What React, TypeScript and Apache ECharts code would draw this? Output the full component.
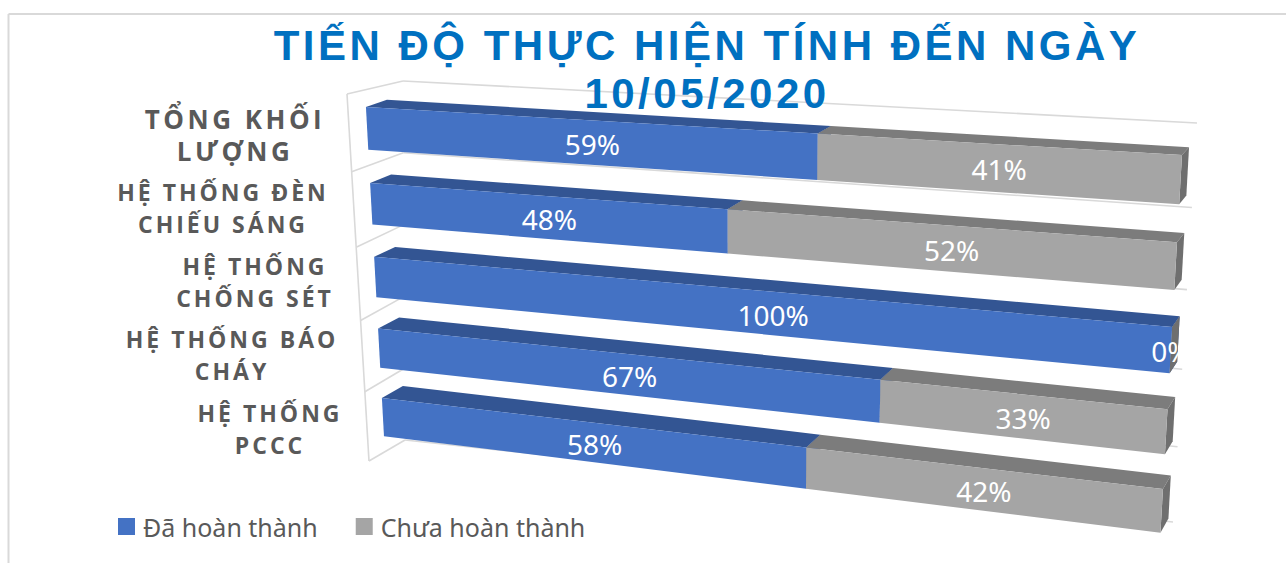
import React, { useEffect, useRef } from "react";
import * as echarts from "echarts";

const titleText = "TIẾN ĐỘ THỰC HIỆN TÍNH ĐẾN NGÀY\n10/05/2020";
const categories = [
  "TỔNG KHỐI\nLƯỢNG",
  "HỆ THỐNG ĐÈN\nCHIẾU SÁNG",
  "HỆ THỐNG\nCHỐNG SÉT",
  "HỆ THỐNG BÁO\nCHÁY",
  "HỆ THỐNG\nPCCC",
];
const doneName = "Đã hoàn thành";
const todoName = "Chưa hoàn thành";
const doneValues = [59, 48, 100, 67, 58];
const todoValues = [41, 52, 0, 33, 42];

// horizontal shift of each category label from the common anchor, and its font size
const labelShiftX = [-15, -27, 5, -18, 20];
const labelFontSize = [26, 23, 23, 23, 23];

const W = 1286;
const H = 563;
const GRID = { left: 365, right: 1183, top: 97.7, bottom: 465.7 };
const LABEL_ANCHOR_X = 250;
const BAR_FILL = 0.56;

// projective plane of the 3D chart (front plane of the bars)
const F = { tl: [365, 90], tr: [1183.1, 135.5], bl: [384.8, 451], br: [1159.5, 549.8] };
const D = { tl: [21, -7], tr: [7, -7.5], bl: [21, -13], br: [8, -14.5] };
const KU = 1.16;
const KV = 0.93;
const sU = (u: number) => u / (u + KU * (1 - u));
const sV = (v: number) => v / (v + KV * (1 - v));
const lerp = (a: number, b: number, t: number) => a + (b - a) * t;
const bil = (q: any, s: number, t: number, k: number) =>
  lerp(lerp(q.tl[k], q.tr[k], s), lerp(q.bl[k], q.br[k], s), t);

function project(u: number, v: number, d: number): number[] {
  const s = sU(u);
  const t = sV(v);
  return [bil(F, s, t, 0) + d * bil(D, s, t, 0), bil(F, s, t, 1) + d * bil(D, s, t, 1)];
}
const norm = (p: number[]) => [
  (p[0] - GRID.left) / (GRID.right - GRID.left),
  (p[1] - GRID.top) / (GRID.bottom - GRID.top),
];

const barRender = (front: string, top: string, side: string) => (_: any, api: any) => {
  const start = api.value(0);
  const end = api.value(1);
  const cat = api.value(2);
  const share = api.value(3);
  const a = norm(api.coord([start, cat]));
  const b = norm(api.coord([end, cat]));
  const band = api.size([0, 1])[1] / (GRID.bottom - GRID.top);
  const v0 = a[1] - (band * BAR_FILL) / 2;
  const v1 = a[1] + (band * BAR_FILL) / 2;
  const u0 = a[0];
  const u1 = b[0];
  const c0 = project(u0, a[1], 0);
  const c1 = project(u1, a[1], 0);
  return {
    type: "group",
    children: [
      { type: "polygon", shape: { points: [project(u0, v0, 0), project(u1, v0, 0), project(u1, v0, 1), project(u0, v0, 1)] }, style: { fill: top } },
      { type: "polygon", shape: { points: [project(u1, v0, 0), project(u1, v0, 1), project(u1, v1, 1), project(u1, v1, 0)] }, style: { fill: side } },
      { type: "polygon", shape: { points: [project(u0, v0, 0), project(u1, v0, 0), project(u1, v1, 0), project(u0, v1, 0)] }, style: { fill: front } },
      {
        type: "text",
        z2: 50,
        style: {
          text: share + "%",
          x: (c0[0] + c1[0]) / 2,
          y: (c0[1] + c1[1]) / 2 + 1,
          fill: "#ffffff",
          fontSize: 28,
          fontFamily: "Noto Sans",
          align: "center",
          verticalAlign: "middle",
          textAlign: "center",
          textVerticalAlign: "middle",
        },
      },
    ],
  };
};

const WALL = {
  sideTop: [347, 94],
  sideBottom: [369, 461],
  backTop: [403, 81],
  backBottom: [405, 440],
  rightTop: [1197, 123],
  rightBottom: [1173, 522],
};
const wallLine = (p: number[], q: number[]) => ({
  type: "line",
  shape: { x1: p[0], y1: p[1], x2: q[0], y2: q[1] },
  style: { stroke: "#d9d9d9", lineWidth: 1.6, fill: "none" },
});
const wallRender = (_: any, api: any) => {
  const cat = api.value(0);
  const c = norm(api.coord([0, cat]));
  const band = api.size([0, 1])[1] / (GRID.bottom - GRID.top);
  const edge = (v: number) => {
    const t = sV(v);
    const side = [lerp(WALL.sideTop[0], WALL.sideBottom[0], t), lerp(WALL.sideTop[1], WALL.sideBottom[1], t)];
    const back = [lerp(WALL.backTop[0], WALL.backBottom[0], v), lerp(WALL.backTop[1], WALL.backBottom[1], v)];
    const right = [lerp(WALL.rightTop[0], WALL.rightBottom[0], t), lerp(WALL.rightTop[1], WALL.rightBottom[1], t)];
    return [wallLine(side, back), wallLine(back, right)];
  };
  const vTop = c[1] - band / 2;
  const children: any[] = edge(vTop);
  if (cat === 0) children.push(wallLine(WALL.sideTop, WALL.sideBottom));
  if (cat === categories.length - 1) children.push(...edge(vTop + band));
  return { type: "group", children };
};

export default function App() {
  const ref = useRef<HTMLDivElement>(null);
  useEffect(() => {
    document.body.style.margin = "0";
    const chart = echarts.init(ref.current!, undefined, { renderer: "svg" });
    chart.setOption({
      animation: false,
      backgroundColor: "#ffffff",
      title: {
        text: titleText,
        left: 702,
        top: 16,
        textAlign: "center",
        textStyle: {
          fontFamily: "Liberation Sans",
          fontWeight: "bold",
          fontSize: 42,
          lineHeight: 48,
          color: "#0070c0",
        },
      },
      legend: {
        left: 113,
        top: 509,
        icon: "rect",
        itemWidth: 17,
        itemHeight: 17,
        itemGap: 38,
        selectedMode: false,
        data: [doneName, todoName],
        textStyle: { fontFamily: "Noto Sans", fontSize: 25, color: "#595959", padding: [0, 0, 0, 3] },
      },
      grid: { left: GRID.left, right: W - GRID.right, top: GRID.top, bottom: H - GRID.bottom },
      xAxis: { type: "value", min: 0, max: 100, show: false },
      yAxis: {
        type: "category",
        inverse: true,
        data: categories.map((c, i) => {
          const dx = labelShiftX[i];
          return {
            value: c,
            textStyle: {
              align: "center",
              verticalAlign: "middle",
              fontSize: labelFontSize[i],
              padding: [0, dx < 0 ? -dx * 2 : 0, 0, dx > 0 ? dx * 2 : 0],
            },
          };
        }),
        axisLine: { show: false },
        axisTick: { show: false },
        splitLine: { show: false },
        axisLabel: {
          align: "center",
          margin: GRID.left - LABEL_ANCHOR_X,
          interval: 0,
          fontFamily: "Open Sans",
          fontWeight: "bold",
          lineHeight: 32,
          color: "#595959",
        },
      },
      graphic: [
        { type: "line", shape: { x1: 8.5, y1: 14, x2: W, y2: 14 }, style: { stroke: "#d9d9d9", lineWidth: 2 } },
        { type: "line", shape: { x1: 8.5, y1: 14, x2: 8.5, y2: H }, style: { stroke: "#d9d9d9", lineWidth: 2 } },
      ],
      series: [
        {
          type: "custom",
          name: "walls",
          z: 1,
          silent: true,
          coordinateSystem: "cartesian2d",
          encode: { y: 0 },
          data: categories.map((_, i) => [i]),
          renderItem: wallRender,
        },
        {
          type: "custom",
          name: doneName,
          z: 2,
          silent: true,
          itemStyle: { color: "#4472c4" },
          encode: { x: [0, 1], y: 2 },
          data: doneValues.map((v, i) => [0, v, i, v]),
          renderItem: barRender("#4472c4", "#335593", "#335593"),
        },
        {
          type: "custom",
          name: todoName,
          z: 3,
          silent: true,
          itemStyle: { color: "#a5a5a5" },
          encode: { x: [0, 1], y: 2 },
          data: todoValues.map((v, i) => [doneValues[i], doneValues[i] + v, i, v]),
          renderItem: barRender("#a5a5a5", "#7c7c7c", "#6f6f6f"),
        },
      ],
    });
    return () => chart.dispose();
  }, []);
  return (
    <div id="c">
      <style>{`
        #c text[style*="Liberation Sans"] { letter-spacing: 3.5px; }
        #c text[style*="Open Sans"] { letter-spacing: 3.5px; }
        #c text[style*="Open Sans"][style*="23px"] { letter-spacing: 3px; }
      `}</style>
      <div ref={ref} style={{ width: W, height: H }} />
    </div>
  );
}
